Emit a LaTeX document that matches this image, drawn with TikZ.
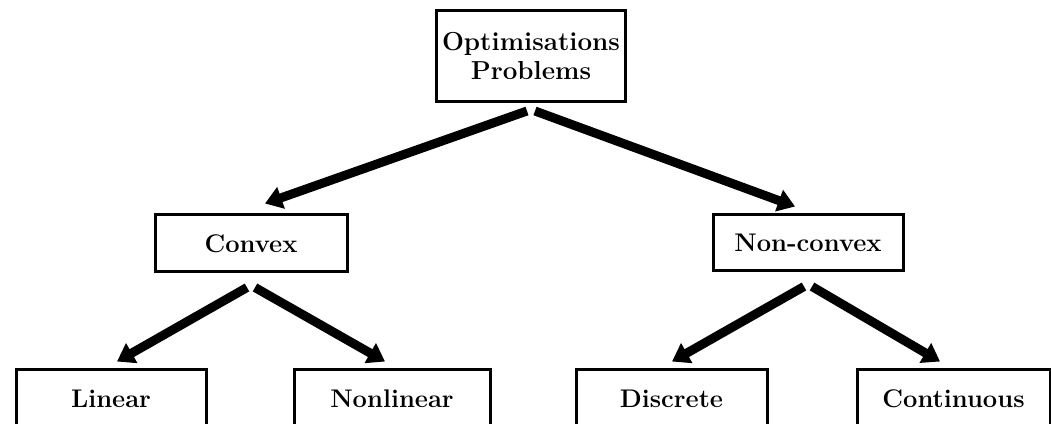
\documentclass[tikz,border=0pt]{standalone}
\usepackage{tikz}
\usetikzlibrary{calc}
\usetikzlibrary{arrows.meta}
\tikzset{>={Triangle[length=17pt,width=22pt]}}

\tikzset{
    probbox/.style={draw, line width=3pt, inner sep=0pt, minimum height=57pt,
        text height=20pt, text depth=1pt, font=\fontsize{25.5}{29}\selectfont\bfseries},
    branch/.style={->, line width=9pt},
}

\begin{document}
\begin{tikzpicture}[x=1pt, y=-1pt]
    \useasboundingbox (0,0) rectangle (1051,423);
    \clip (0,0) rectangle (1051,423);

    % root of the tree
    \node[draw, line width=3pt, minimum width=189pt, minimum height=91pt, align=center,
          font=\fontsize{26}{29}\selectfont\bfseries] (optim) at (531,56) {Optimisations\\Problems};

    % second level
    \node[probbox, minimum width=192pt] (cvx)  at (251,242.5) {Convex};
    \node[probbox, minimum width=190pt, minimum height=56pt] (ncvx) at (808,242) {Non-convex};

    % leaves, cut by the lower edge
    \node[probbox, minimum width=190pt] (lin)  at (111,397.5) {Linear};
    \node[probbox, minimum width=196pt] (nlin) at (392,397.5) {Nonlinear};
    \node[probbox, minimum width=191pt] (disc) at (671.5,397.5) {Discrete};
    \node[probbox, minimum width=193pt] (cont) at (953.5,397.5) {Continuous};

    \draw[branch] ([shift={(-4,8)}]optim.south) -- ([shift={(14,-9)}]cvx.north);
    \draw[branch] ([shift={(4,8)}]optim.south) -- ([shift={(-13,-6)}]ncvx.north);

    \draw[branch] ([shift={(-4,15)}]cvx.south) -- ([shift={(6,-6)}]lin.north);
    \draw[branch] ([shift={(4,15)}]cvx.south) -- ([shift={(-7,-6)}]nlin.north);

    \draw[branch] ([shift={(-4,15)}]ncvx.south) -- ([shift={(0.5,-6)}]disc.north);
    \draw[branch] ([shift={(4,15)}]ncvx.south) -- ([shift={(-13.5,-6)}]cont.north);
\end{tikzpicture}
\end{document}
